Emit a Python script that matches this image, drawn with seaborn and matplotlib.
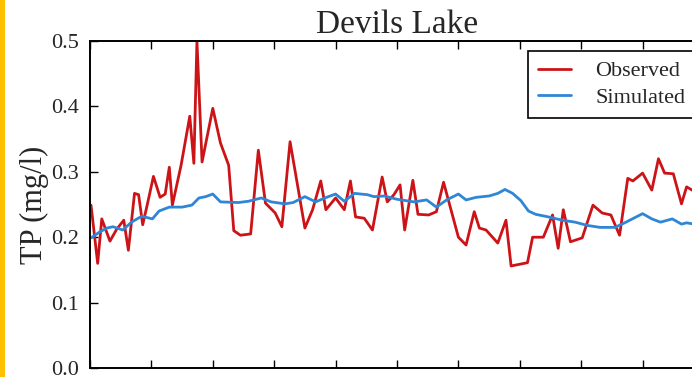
import matplotlib
matplotlib.use("Agg")
import matplotlib.pyplot as plt
from matplotlib.patches import Rectangle
import pandas as pd
import seaborn as sns

# Sampling times in months from the start of the record
obs_month = [0.2, 1.5, 2.3, 3.9, 5.2, 6.6, 7.5, 8.7, 9.5, 10.3, 11.2, 12.4, 13.7,
             14.7, 15.5, 16.1, 17.8, 19.5, 20.3, 20.9, 21.9, 24.0, 25.5, 27.1,
             28.1, 29.4, 31.4, 32.9, 34.3, 36.2, 37.5, 39.1, 42.0, 43.5, 45.1,
             46.1, 48.0, 49.7, 50.9, 51.9, 53.6, 55.2, 57.1, 58.1, 59.4, 60.6,
             61.5, 63.1, 64.1, 66.2, 67.7, 69.1, 72.0, 73.5, 75.1, 76.1, 77.4,
             79.7, 81.3, 82.3, 85.5, 86.5, 88.6, 90.4, 91.5, 92.5, 93.9, 96.2,
             98.3, 100.1, 101.8, 103.5, 105.1, 106.1, 108.0, 109.8, 111.1,
             112.3, 114.0, 115.6, 116.6, 118.1]
obs_tp = [0.249, 0.160, 0.228, 0.194, 0.212, 0.226, 0.180, 0.267, 0.265, 0.219,
          0.250, 0.293, 0.261, 0.266, 0.307, 0.249, 0.310, 0.385, 0.313, 0.500,
          0.315, 0.397, 0.344, 0.310, 0.210, 0.203, 0.205, 0.333, 0.252, 0.237,
          0.216, 0.346, 0.214, 0.242, 0.286, 0.242, 0.260, 0.242, 0.286, 0.231,
          0.229, 0.211, 0.292, 0.254, 0.265, 0.280, 0.211, 0.287, 0.235, 0.234,
          0.239, 0.284, 0.200, 0.188, 0.239, 0.214, 0.211, 0.191, 0.226, 0.156,
          0.161, 0.200, 0.200, 0.234, 0.183, 0.242, 0.193, 0.199, 0.249, 0.237,
          0.234, 0.203, 0.290, 0.286, 0.298, 0.272, 0.320, 0.298, 0.297, 0.251,
          0.277, 0.270]

sim_month = [0.2, 1.9, 3.3, 4.5, 6.4, 8.1, 10.1, 12.2, 13.5, 15.5, 18.0, 19.9,
             21.3, 22.6, 24.0, 25.5, 29.0, 31.0, 33.5, 35.4, 38.1, 39.7, 42.0,
             44.1, 45.9, 48.0, 49.7, 51.7, 54.2, 55.5, 57.5, 60.0, 63.3, 65.8,
             67.7, 69.7, 72.0, 73.5, 75.5, 78.0, 79.7, 81.1, 82.6, 84.2, 85.7,
             87.1, 89.6, 92.3, 94.8, 97.2, 99.7, 102.6, 104.5, 108.0, 109.8,
             111.5, 113.8, 115.6, 116.6, 118.1]
sim_tp = [0.199, 0.208, 0.214, 0.216, 0.211, 0.223, 0.232, 0.228, 0.240, 0.246,
          0.246, 0.249, 0.260, 0.262, 0.266, 0.254, 0.253, 0.255, 0.260, 0.254,
          0.251, 0.253, 0.262, 0.254, 0.260, 0.266, 0.255, 0.267, 0.265, 0.262,
          0.263, 0.258, 0.254, 0.257, 0.246, 0.257, 0.266, 0.257, 0.261, 0.263,
          0.267, 0.273, 0.267, 0.256, 0.240, 0.235, 0.231, 0.226, 0.223, 0.218,
          0.215, 0.215, 0.222, 0.236, 0.228, 0.223, 0.228, 0.220, 0.222, 0.220]

series_names = ["Observed", "Simulated"]
y_ticks = [0.0, 0.1, 0.2, 0.3, 0.4, 0.5]
x_ticks = list(range(0, 121, 12))

df = pd.concat([
    pd.DataFrame({"month": obs_month, "TP": obs_tp, "series": series_names[0]}),
    pd.DataFrame({"month": sim_month, "TP": sim_tp, "series": series_names[1]}),
], ignore_index=True)

sns.set_style("white")
plt.rcParams["font.family"] = ["Liberation Serif", "DejaVu Serif"]

fig = plt.figure(figsize=(6.92, 3.77), dpi=100)
ax = fig.add_axes([90 / 692, 9 / 377, 614 / 692, 327 / 377])

# slim accent bar along the left edge
fig.patches.append(Rectangle((0, 0), 5 / 692, 1, transform=fig.transFigure,
                             facecolor="#FFC000", edgecolor="none", zorder=0))

palette = {"Observed": "#cc1418", "Simulated": "#2f86d6"}
sns.lineplot(data=df, x="month", y="TP", hue="series", palette=palette,
             estimator=None, sort=False, linewidth=2.0, ax=ax, legend=False)

ax.set_xlim(0, 118.8)
ax.set_ylim(0, 0.5)
ax.set_xticks(x_ticks)
ax.set_xticklabels([])
ax.set_yticks(y_ticks)
ax.set_yticklabels([f"{v:.1f}" for v in y_ticks], fontsize=16)
ax.tick_params(direction="in", top=True, right=True, bottom=True, left=True,
               length=6, width=1, color="black", pad=8)
for sp in ax.spines.values():
    sp.set_color("black")
    sp.set_linewidth(1.4)

ax.set_xlabel("")
ax.set_ylabel("TP (mg/l)", fontsize=22)
ax.yaxis.set_label_coords(-0.066, 0.5)
ax.set_title("Devils Lake", fontsize=24, pad=6)

handles = [plt.Line2D([], [], color=palette[n], lw=2.0) for n in series_names]
leg = ax.legend(handles, series_names, loc="upper right",
                bbox_to_anchor=(0.986, 0.97), borderaxespad=0, fontsize=16,
                frameon=True, fancybox=False, framealpha=1, edgecolor="black",
                handlelength=1.5, handletextpad=1.1, labelspacing=0.28,
                borderpad=0.45)
leg.get_frame().set_linewidth(1.2)

fig.savefig("out.png", dpi=100)
